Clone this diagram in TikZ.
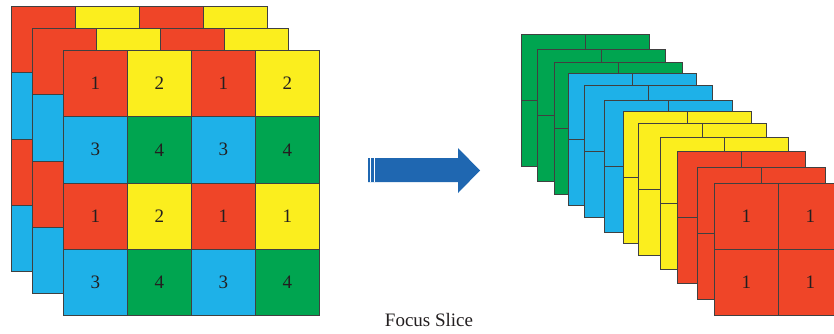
\documentclass[tikz,border=0pt]{standalone}
\usepackage{fontspec}
\setmainfont{Liberation Serif}
\definecolor{cred}{HTML}{EF4528}
\definecolor{cyel}{HTML}{FBEE1E}
\definecolor{cblu}{HTML}{1EB1E8}
\definecolor{cgrn}{HTML}{00A550}
\definecolor{carrow}{HTML}{1F67B1}
\definecolor{ink}{HTML}{231F20}
\tikzset{
  cell/.style={draw=black!75, line width=0.8pt, minimum width=64pt,
    minimum height=66.25pt, inner sep=0pt, anchor=north west,
    font=\fontsize{19}{19}\selectfont, text=ink},
  scell/.style={draw=black!75, line width=0.8pt, minimum width=64pt,
    minimum height=66pt, inner sep=0pt, anchor=north west,
    font=\fontsize{19}{19}\selectfont, text=ink},
  caption/.style={font=\fontsize{19}{19}\selectfont, text=ink, inner sep=0pt}
}
% 4x4 colour-coded input grid: #1 name, #2/#3 top-left, #4 = 1 shows labels
\newcommand\inputgrid[4]{%
  \foreach \r/\c/\col/\t in {0/0/cred/1,0/1/cyel/2,0/2/cred/1,0/3/cyel/2,
                             1/0/cblu/3,1/1/cgrn/4,1/2/cblu/3,1/3/cgrn/4,
                             2/0/cred/1,2/1/cyel/2,2/2/cred/1,2/3/cyel/1,
                             3/0/cblu/3,3/1/cgrn/4,3/2/cblu/3,3/3/cgrn/4}{
    \node[cell, fill=\col] (#1-\r-\c) at ({#2+64*\c},{#3+66.25*\r})
      {\ifnum#4=1 \t\fi};
  }%
}
% 2x2 slice of one colour: #1 name, #2 colour, #3/#4 top-left, #5 = 1 shows labels
\newcommand\slicegrid[5]{%
  \foreach \r in {0,1}{
    \foreach \c in {0,1}{
      \node[scell, fill=#2] (#1-\r-\c) at ({#3+64*\c},{#4+66*\r})
        {\ifnum#5=1 1\fi};
    }
  }%
}
\begin{document}
\begin{tikzpicture}[x=1pt,y=-1pt]
\useasboundingbox (0,0) rectangle (834,333);
\clip (0,0) rectangle (834,333);

% stacked input feature maps
\inputgrid{back}{11}{6}{0}
\inputgrid{mid}{32}{28}{0}
\inputgrid{front}{63}{50}{1}

% transform arrow
\fill[carrow] (368,158) -- (458,158) -- (458,148) -- (480,170.5)
  -- (458,193) -- (458,182) -- (368,182) -- cycle;
\draw[white, line width=0.7pt] (370.6,158) -- (370.6,182);
\draw[white, line width=0.7pt] (374.6,158) -- (374.6,182);

% focus slices
\slicegrid{g1}{cgrn}{521}{34}{0}
\slicegrid{g2}{cgrn}{537}{49}{0}
\slicegrid{g3}{cgrn}{554}{62}{0}
\slicegrid{b1}{cblu}{568}{73}{0}
\slicegrid{b2}{cblu}{584}{85}{0}
\slicegrid{b3}{cblu}{604}{100}{0}
\slicegrid{y1}{cyel}{623}{111}{0}
\slicegrid{y2}{cyel}{638}{123}{0}
\slicegrid{y3}{cyel}{660}{137}{0}
\slicegrid{r1}{cred}{677}{151}{0}
\slicegrid{r2}{cred}{697}{167}{0}
\slicegrid{r3}{cred}{714}{183}{1}

\node[caption] (cap) at (429,320) {Focus Slice};
\end{tikzpicture}
\end{document}
